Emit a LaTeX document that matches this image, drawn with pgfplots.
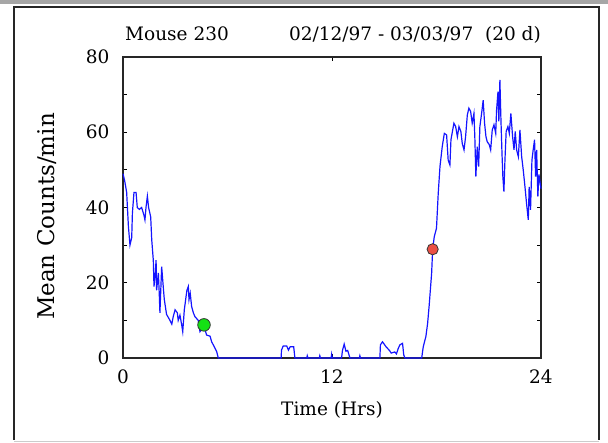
\documentclass[border=0pt]{standalone}
\usepackage{pgfplots}
\pgfplotsset{compat=1.18}
\usepackage{fontspec}
\setmainfont{DejaVu Serif}
\definecolor{trace}{RGB}{20,20,255}
\definecolor{gdot}{RGB}{20,225,20}
\definecolor{rdot}{RGB}{235,80,70}
\begin{document}
\begin{tikzpicture}[x=1pt,y=1pt]
\path[use as bounding box] (0,0) rectangle (608,443);
\fill[gray!70] (0,438.5) rectangle (608,443);
\draw[line width=1.3pt,black!85] (14,3) -- (14,436) -- (599,436) -- (599,3);
\draw[line width=0.8pt,gray!40] (14,2) -- (599,2);
\begin{axis}[
  at={(123pt,85pt)}, anchor=south west,
  scale only axis, width=418pt, height=301pt,
  xmin=0, xmax=24, ymin=0, ymax=80,
  xtick={0,12,24}, ytick={0,20,40,60,80},
  minor ytick={10,30,50,70},
  tick pos=both, tick align=inside,
  major tick length=4pt, minor tick length=4pt,
  every tick/.style={black, line width=1pt},
  axis line style={line width=1.4pt, black!85},
  /pgf/number format/assume math mode=true,
  ticklabel style={font=\fontsize{18.5}{18.5}\selectfont},
  xticklabel style={yshift=-8pt},
  yticklabel style={xshift=-10pt},
  xlabel={Time (Hrs)}, ylabel={Mean Counts/min},
  xlabel style={font=\fontsize{18.5}{18.5}\selectfont, at={(axis description cs:0.5,0)}, anchor=base, yshift=-58pt},
  ylabel style={font=\fontsize{23}{23}\selectfont, at={(axis description cs:0,0.5)}, anchor=base, xshift=-9pt, yshift=68pt},
  clip=false,
]
\addplot[trace, line width=1.2pt] coordinates {
(0,49) (0.1,47) (0.21,44) (0.31,35) (0.4,30) (0.5,32) (0.54,38.5) (0.63,44)
(0.75,44) (0.82,40) (0.94,39.5) (1.07,40) (1.2,38) (1.26,36.7) (1.32,40) (1.4,43)
(1.47,40) (1.59,37.5) (1.65,31.4) (1.74,26) (1.78,19) (1.84,21.6) (1.9,26) (1.93,18)
(2.03,22.6) (2.08,17.3) (2.12,12) (2.22,24.3) (2.31,19) (2.37,15.6) (2.5,11.6)
(2.66,10.3) (2.8,9) (2.89,11.1) (2.99,12.8) (3.12,12) (3.17,10) (3.27,11.4)
(3.37,8.8) (3.43,7) (3.52,12.8) (3.62,16.3) (3.67,18) (3.75,19) (3.79,15.5)
(3.86,17.2) (3.94,13.7) (4.04,12) (4.13,11) (4.32,10) (4.42,7) (4.65,8.5)
(4.8,6.1) (5.0,5.8) (5.09,4.3) (5.24,3) (5.38,1.7) (5.47,0)
(9.08,0) (9.1,2.1) (9.2,3.2) (9.4,3.2) (9.5,2.1) (9.6,3) (9.8,3) (9.87,0)
(10.55,0) (10.58,0.6) (10.62,0) (11.27,0) (11.3,0.6) (11.34,0) (11.95,0) (11.98,1) (12.02,0)
(12.55,0) (12.6,2) (12.7,3.7) (12.8,1.8) (12.9,2) (13.03,0) (13.57,0) (13.6,0.6) (13.64,0)
(14.75,0) (14.78,3.5) (14.9,4.3) (15.1,3) (15.3,2) (15.4,1.3) (15.6,1.6) (15.7,1.1)
(15.8,2.5) (15.9,3.5) (16.05,3.9) (16.12,0.8) (16.19,0)
(17.15,0) (17.24,3) (17.39,5.7) (17.49,9.2) (17.58,14) (17.72,22.5) (17.78,28.9)
(17.87,32.2) (18.0,34.5) (18.1,43.8) (18.2,50.9) (18.33,56.2) (18.45,59.7)
(18.58,59.3) (18.67,52.6) (18.77,51.3) (18.83,58) (18.93,60.6) (19.0,62.4)
(19.1,61.5) (19.2,58.8) (19.29,61.5) (19.4,60.2) (19.48,57) (19.58,55.3)
(19.67,58.8) (19.77,64.6) (19.86,66.4) (19.96,65.5) (20.05,62.4) (20.15,65)
(20.2,58.8) (20.26,48.2) (20.34,56.2) (20.42,50.9) (20.49,61.5) (20.59,65)
(20.68,68.5) (20.76,62.4) (20.84,58.8) (20.91,57.5) (21.03,56.7) (21.11,55.3)
(21.2,60.6) (21.3,62) (21.4,59.7) (21.45,65.9) (21.53,70.8) (21.58,62.9)
(21.64,73.9) (21.7,63.3) (21.76,54.4) (21.81,48.2) (21.87,44.2) (21.93,52.6)
(22.0,60.2) (22.1,61.5) (22.18,59.7) (22.27,65) (22.37,58.8) (22.45,55.3)
(22.52,60.2) (22.6,55.3) (22.7,53.5) (22.79,60.6) (22.89,53.5) (22.98,50)
(23.08,45.5) (23.17,41.1) (23.27,36.7) (23.32,45.5) (23.4,39.4) (23.48,52.6)
(23.55,55.3) (23.63,58) (23.69,48.2) (23.75,55.3) (23.82,42.9) (23.88,48.8) (24,45)
};
\addplot[only marks, mark=*, mark size=6.3pt, mark options={fill=gdot, draw=black!80, line width=0.8pt}] coordinates {(4.65,8.8)};
\addplot[only marks, mark=*, mark size=5.6pt, mark options={fill=rdot, draw=black!80, line width=0.8pt}] coordinates {(17.78,28.9)};
\node[anchor=base west, inner sep=0pt, font=\fontsize{18.5}{18.5}\selectfont] at ([xshift=2pt,yshift=17pt]rel axis cs:0,1) {Mouse 230};
\node[anchor=base east, inner sep=0pt, font=\fontsize{18.5}{18.5}\selectfont] at ([yshift=17pt]rel axis cs:1,1) {02/12/97 - 03/03/97\ \ (20 d)};
\end{axis}
\end{tikzpicture}
\end{document}
